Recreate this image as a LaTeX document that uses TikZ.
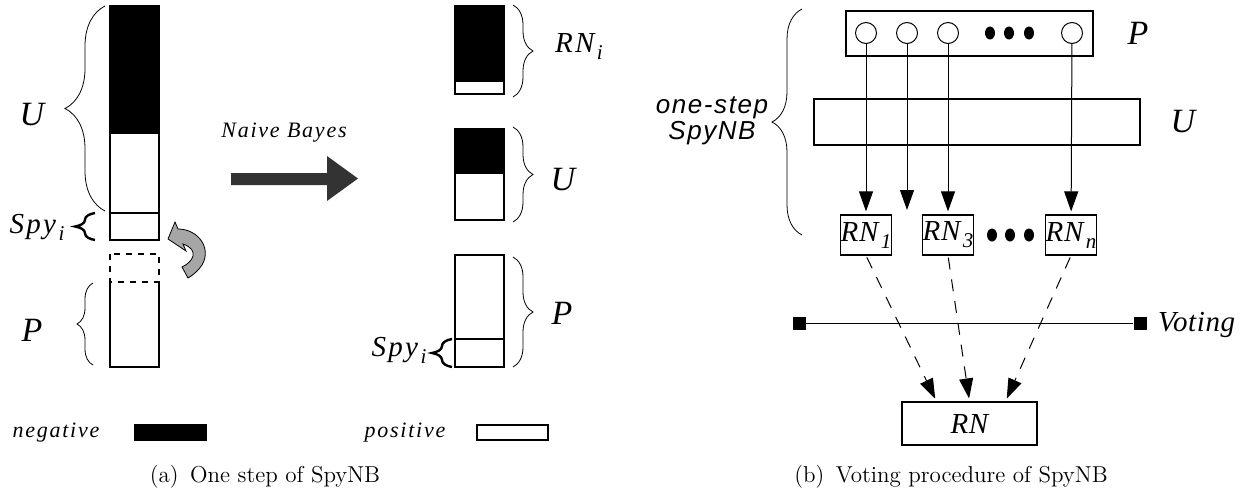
\documentclass[tikz,border=0pt]{standalone}
\usepackage{fontspec}
\newfontfamily\lblfont[LetterSpace=8]{Liberation Serif}
\newfontfamily\tightfont[LetterSpace=2]{Liberation Serif}
\newfontfamily\sslfont[LetterSpace=6]{Liberation Sans}
\usetikzlibrary{arrows.meta,decorations.pathreplacing}

\newcommand\lowsub[1]{\kern1.2pt\raisebox{-3.5pt}{\fontsize{10.5}{10.5}\selectfont #1}}

\tikzset{
  lbl/.style={font=\tightfont\itshape\fontsize{17}{17}\selectfont},
  midlbl/.style={font=\lblfont\itshape\fontsize{14.5}{14.5}\selectfont},
  smalllbl/.style={font=\lblfont\itshape\fontsize{11}{11}\selectfont},
  capt/.style={font=\fontsize{11.5}{13}\selectfont},
  bar/.style={draw,line width=.6pt},
  brc/.style={decorate,decoration={brace,amplitude=#1},line width=.4pt},
  spybrc/.style={decorate,decoration={brace,amplitude=10pt},line width=1.2pt},
  rnbox/.style={draw,line width=.6pt,minimum width=25pt,minimum height=20pt,
    inner sep=0pt,font=\tightfont\itshape\fontsize{14.5}{14.5}\selectfont},
  smp/.style={draw,circle,line width=.5pt,minimum size=10.5pt,inner sep=0pt},
  sq/.style={fill=black,minimum size=6.5pt,inner sep=0pt},
  split/.style={-{Triangle[length=10pt,width=7pt]},line width=.5pt,shorten >=1.5pt},
  vote/.style={split,dash pattern=on 6pt off 5pt,shorten <=1pt}
}

\begin{document}
\begin{tikzpicture}[x=.5pt,y=-.5pt]
  \useasboundingbox (0,0) rectangle (1241,493);

  % (a) one step
  \fill (110,6) rectangle (159,133);
  \draw[bar] (110,6) rectangle (159,213) (110,133) -- (159,133);
  \draw[bar] (110,213) rectangle (159,240);
  \draw[bar,dashed] (110,254) rectangle (159,282);
  \draw[bar] (110,282) -- (110,367) -- (159,367) -- (159,282);

  \draw[brc=20pt] (105,211) -- (105,6);
  \draw[spybrc] (95,240) -- (95,213);
  \draw[brc=8pt] (93,365) -- (93,283);
  \node[lbl] (uleft) at (32,115) {U};
  \node[midlbl] (spyleft) at (37,227) {Spy\lowsub{i}};
  \node[lbl] (pleft) at (32,330) {P};

  \draw[fill=gray!70,line width=.4pt]
    (168,239) -- (175,222) -- (178,229)
    .. controls (198,229) and (212,248) .. (202,265)
    .. controls (198,271) and (193,275) .. (188,278) -- (182,267)
    .. controls (193,262) and (200,250) .. (183,244) -- (186,251) -- cycle;

  \fill[black!80] (231,173) -- (327,173) -- (327,156) -- (358,178.5)
    -- (327,201) -- (327,185) -- (231,185) -- cycle;
  \node[smalllbl] (nb) at (284,133) {Naive Bayes};

  \fill (455,6) rectangle (504,81);
  \draw[bar] (455,6) rectangle (504,94) (455,81) -- (504,81);
  \fill (455,129) rectangle (504,173);
  \draw[bar] (455,129) rectangle (504,220) (455,173) -- (504,173);
  \draw[bar] (455,255) rectangle (504,367) (455,339) -- (504,339);

  \draw[brc=10pt] (513,5) -- (513,97);
  \draw[brc=10pt] (513,127) -- (513,222);
  \draw[brc=10pt] (513,257) -- (513,367);
  \draw[spybrc] (452,367) -- (452,339);
  \node[midlbl] (rni) at (579,47) {RN\lowsub{i}};
  \node[lbl] (umid) at (563,180) {U};
  \node[lbl] (pmid) at (562,313) {P};
  \node[midlbl] (spymid) at (399,350) {Spy\lowsub{i}};

  \node[smalllbl] (neg) at (56,433) {negative};
  \fill (134,424) rectangle (207,441);
  \node[smalllbl] (pos) at (405,433) {positive};
  \draw[bar] (477,425) rectangle (548,440);

  \node[capt] (capa) at (265,477) {(a)\enspace One step of SpyNB};

  % (b) voting
  \draw[bar] (846,11) rectangle (1093,56);
  \node[lbl] (pright) at (1138,33) {P};
  \draw[bar] (814,99) rectangle (1140,145);
  \node[lbl] (uright) at (1183,122) {U};
  \foreach \n/\x in {1/866,2/907,3/948,n/1072}
    \node[smp] (c\n) at (\x,33) {};
  \foreach \x in {990,1009,1029}
    \fill (\x,33) ellipse (5 and 6.5);

  \node[rnbox] (rn1) at (866,235) {RN\lowsub{1}};
  \node[rnbox] (rn3) at (948,235) {RN\lowsub{3}};
  \node[rnbox] (rnn) at (1071,235) {RN\lowsub{n}};
  \coordinate (rn2) at (907,213);
  \foreach \x in {992,1010,1029}
    \fill (\x,235) ellipse (5 and 6.5);

  \foreach \n in {1,2,3,n}
    \draw[split] (c\n) -- (rn\n);

  \draw[brc=15pt] (802,235) -- (802,9);
  \node[font=\sslfont\itshape\fontsize{13}{11}\selectfont,align=center]
    (onestep) at (712,121) {one-step\\SpyNB};

  \node[sq] (vl) at (799,323) {};
  \node[sq] (vr) at (1140,323) {};
  \draw[line width=.5pt] (vl) -- (vr);
  \node[lbl,font=\tightfont\itshape\fontsize{14.5}{14.5}\selectfont,anchor=west]
    (vot) at (1151,325) {Voting};

  \node[rnbox,minimum width=67.5pt,minimum height=21.5pt] (rn) at (969.5,423.5) {RN};
  \draw[vote] (rn1.south) -- ([xshift=-16.5pt]rn.north);
  \draw[vote] (rn3.south) -- (rn.north);
  \draw[vote] (rnn.south) -- ([xshift=18pt]rn.north);

  \node[capt] (capb) at (951,477) {(b)\enspace Voting procedure of SpyNB};
\end{tikzpicture}
\end{document}
